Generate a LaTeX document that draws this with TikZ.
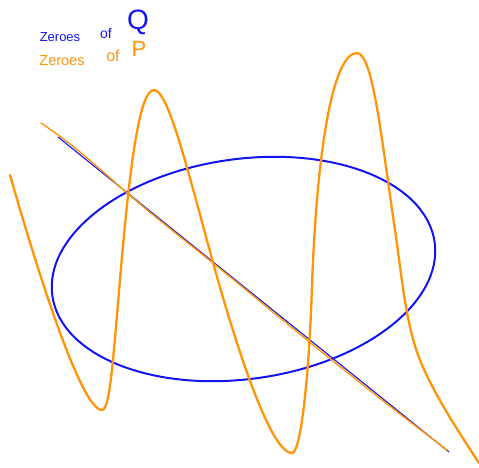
\documentclass[tikz,border=0pt]{standalone}
\usepackage{fontspec}
\setmainfont{Liberation Sans}
\usetikzlibrary{hobby}
\definecolor{qblue}{HTML}{1414F0}
\definecolor{porange}{HTML}{FF9408}
\begin{document}
\begin{tikzpicture}[x=1pt,y=-1pt,
  qcurve/.style={draw=qblue,line width=2pt},
  pcurve/.style={draw=porange,line width=2.3pt,line join=round,line cap=round},
  pline/.style={draw=porange,line width=1.4pt,line cap=round},
  qline/.style={draw=qblue,line width=1.1pt},
  lbl/.style={inner sep=0pt,anchor=center}]
\useasboundingbox (0,0) rectangle (479,468);
% legend
\node[lbl,text=qblue,font=\fontsize{13}{13}\selectfont] (qz) at (60,37.5) {Zeroes};
\node[lbl,text=qblue,font=\fontsize{14}{14}\selectfont] (qo) at (106,33.5) {of};
\node[lbl,text=qblue,font=\fontsize{28}{28}\selectfont] (qq) at (138,22) {Q};
\node[lbl,text=porange,font=\fontsize{14.5}{14.5}\selectfont] (pz) at (62,61) {Zeroes};
\node[lbl,text=porange,font=\fontsize{16}{16}\selectfont] (po) at (113,56) {of};
\node[lbl,text=porange,font=\fontsize{22}{22}\selectfont] (pp) at (139,48.5) {P};
% ellipse Q
\coordinate (ec) at (243.5,269);
\draw[qcurve,rotate around={8:(ec)}] (ec) ellipse [x radius=193, y radius=110];
% lines
\coordinate (qa) at (58,137);
\coordinate (qb) at (449,452);
\draw[qline] (qa) -- (qb);
\draw[pline,use Hobby shortcut] (41,123) .. (80,152) .. (126,192) .. (213,263) .. (312,344) .. (447,450);
% wavy P curve
\coordinate (s) at (10,175);
\coordinate (m1) at (102,410);
\coordinate (i1) at (120,280);
\coordinate (p1) at (154,90);
\coordinate (i2) at (205,233);
\coordinate (m2) at (292,453);
\coordinate (i3) at (311.5,300);
\coordinate (p2) at (357,53);
\coordinate (i4) at (395,230);
\coordinate (q4) at (420,360);
\coordinate (e) at (479,463);
\draw[pcurve] (s) .. controls (40,280) and (82,410) .. (m1)
 .. controls (110,410) and (113,360) .. (i1)
 .. controls (130,160) and (140,90) .. (p1)
 .. controls (167,90) and (184,156) .. (i2)
 .. controls (228,320) and (268,453) .. (m2)
 .. controls (300,453) and (307.9,390) .. (i3)
 .. controls (316,150) and (333,53) .. (p2)
 .. controls (373,53) and (381.7,141) .. (i4)
 .. controls (401.7,274.5) and (405.2,322.9) .. (q4)
 .. controls (434.8,397) and (465.4,442) .. (e);
\end{tikzpicture}
\end{document}
